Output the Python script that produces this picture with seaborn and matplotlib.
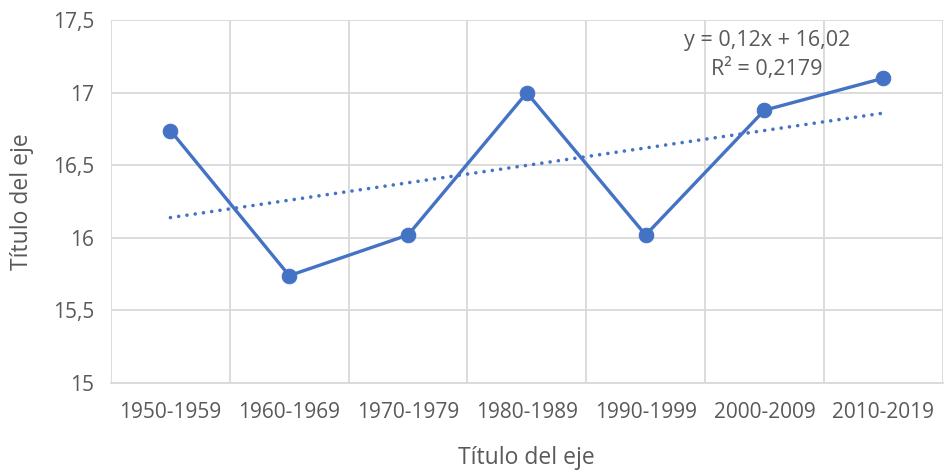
import numpy as np
import pandas as pd
import matplotlib
matplotlib.use("Agg")
import matplotlib.pyplot as plt
import seaborn as sns

# Data
decades = ["1950-1959", "1960-1969", "1970-1979", "1980-1989",
           "1990-1999", "2000-2009", "2010-2019"]
values = [16.74, 15.74, 16.02, 17.0, 16.02, 16.88, 17.1]
y_ticks = [15, 15.5, 16, 16.5, 17, 17.5]
y_tick_labels = ["15", "15,5", "16", "16,5", "17", "17,5"]

LINE_COLOR = "#4472C4"
GRID_COLOR = "#D9D9D9"
TEXT_COLOR = "#595959"

sns.set_theme(style="white")
plt.rcParams["font.family"] = ["Open Sans", "DejaVu Sans"]

df = pd.DataFrame({"decade": decades, "value": values,
                   "pos": np.arange(len(decades))})

fig = plt.figure(figsize=(9.44, 4.70), dpi=100)
ax = fig.add_axes([0.1176, 0.185, 0.881, 0.772])

# trendline (linear fit, Excel-style x = 1..n)
x_excel = df["pos"] + 1
slope, intercept = np.polyfit(x_excel, df["value"], 1)
pred = slope * x_excel + intercept
r2 = 1 - ((df["value"] - pred) ** 2).sum() / ((df["value"] - df["value"].mean()) ** 2).sum()

sns.regplot(data=df, x="pos", y="value", ax=ax, scatter=False, ci=None,
            truncate=True,
            line_kws=dict(color=LINE_COLOR, linewidth=2.6,
                          linestyle=(0, (0.01, 2.3)), dash_capstyle="round",
                          zorder=2))

sns.lineplot(data=df, x="pos", y="value", ax=ax, color=LINE_COLOR,
             linewidth=2.4, marker="o", markersize=10.5,
             markeredgecolor=LINE_COLOR, zorder=3)

ax.set_xlim(-0.5, len(decades) - 0.5)
ax.set_ylim(15, 17.5)
ax.set_xticks(df["pos"])
ax.set_xticklabels(decades)
ax.set_xticks(np.arange(-0.5, len(decades)), minor=True)
ax.set_yticks(y_ticks)
ax.set_yticklabels(y_tick_labels)

ax.grid(False)
ax.grid(axis="y", which="major", color=GRID_COLOR, linewidth=1.3)
ax.grid(axis="x", which="minor", color=GRID_COLOR, linewidth=1.3)
ax.set_axisbelow(True)

for side in ["top", "right", "left"]:
    ax.spines[side].set_visible(False)
ax.spines["bottom"].set_color(GRID_COLOR)
ax.spines["bottom"].set_linewidth(1.3)

ax.tick_params(axis="both", which="both", length=0, labelsize=15,
               labelcolor=TEXT_COLOR)
ax.tick_params(axis="x", pad=14)
ax.tick_params(axis="y", pad=12)

ax.set_xlabel("Título del eje", fontsize=16.5, color=TEXT_COLOR, labelpad=16)
ax.set_ylabel("Título del eje", fontsize=16.5, color=TEXT_COLOR, labelpad=14)

eq = f"y = {slope:.2f}x + {intercept:.2f}".replace(".", ",")
r2_txt = f"R² = {r2:.4f}".replace(".", ",")
ax.text(0.789, 0.943, eq, transform=ax.transAxes, ha="center", va="center",
        fontsize=15.5, color=TEXT_COLOR)
ax.text(0.789, 0.866, r2_txt, transform=ax.transAxes, ha="center", va="center",
        fontsize=15.5, color=TEXT_COLOR)

fig.savefig("out.png", dpi=100, facecolor="white")
